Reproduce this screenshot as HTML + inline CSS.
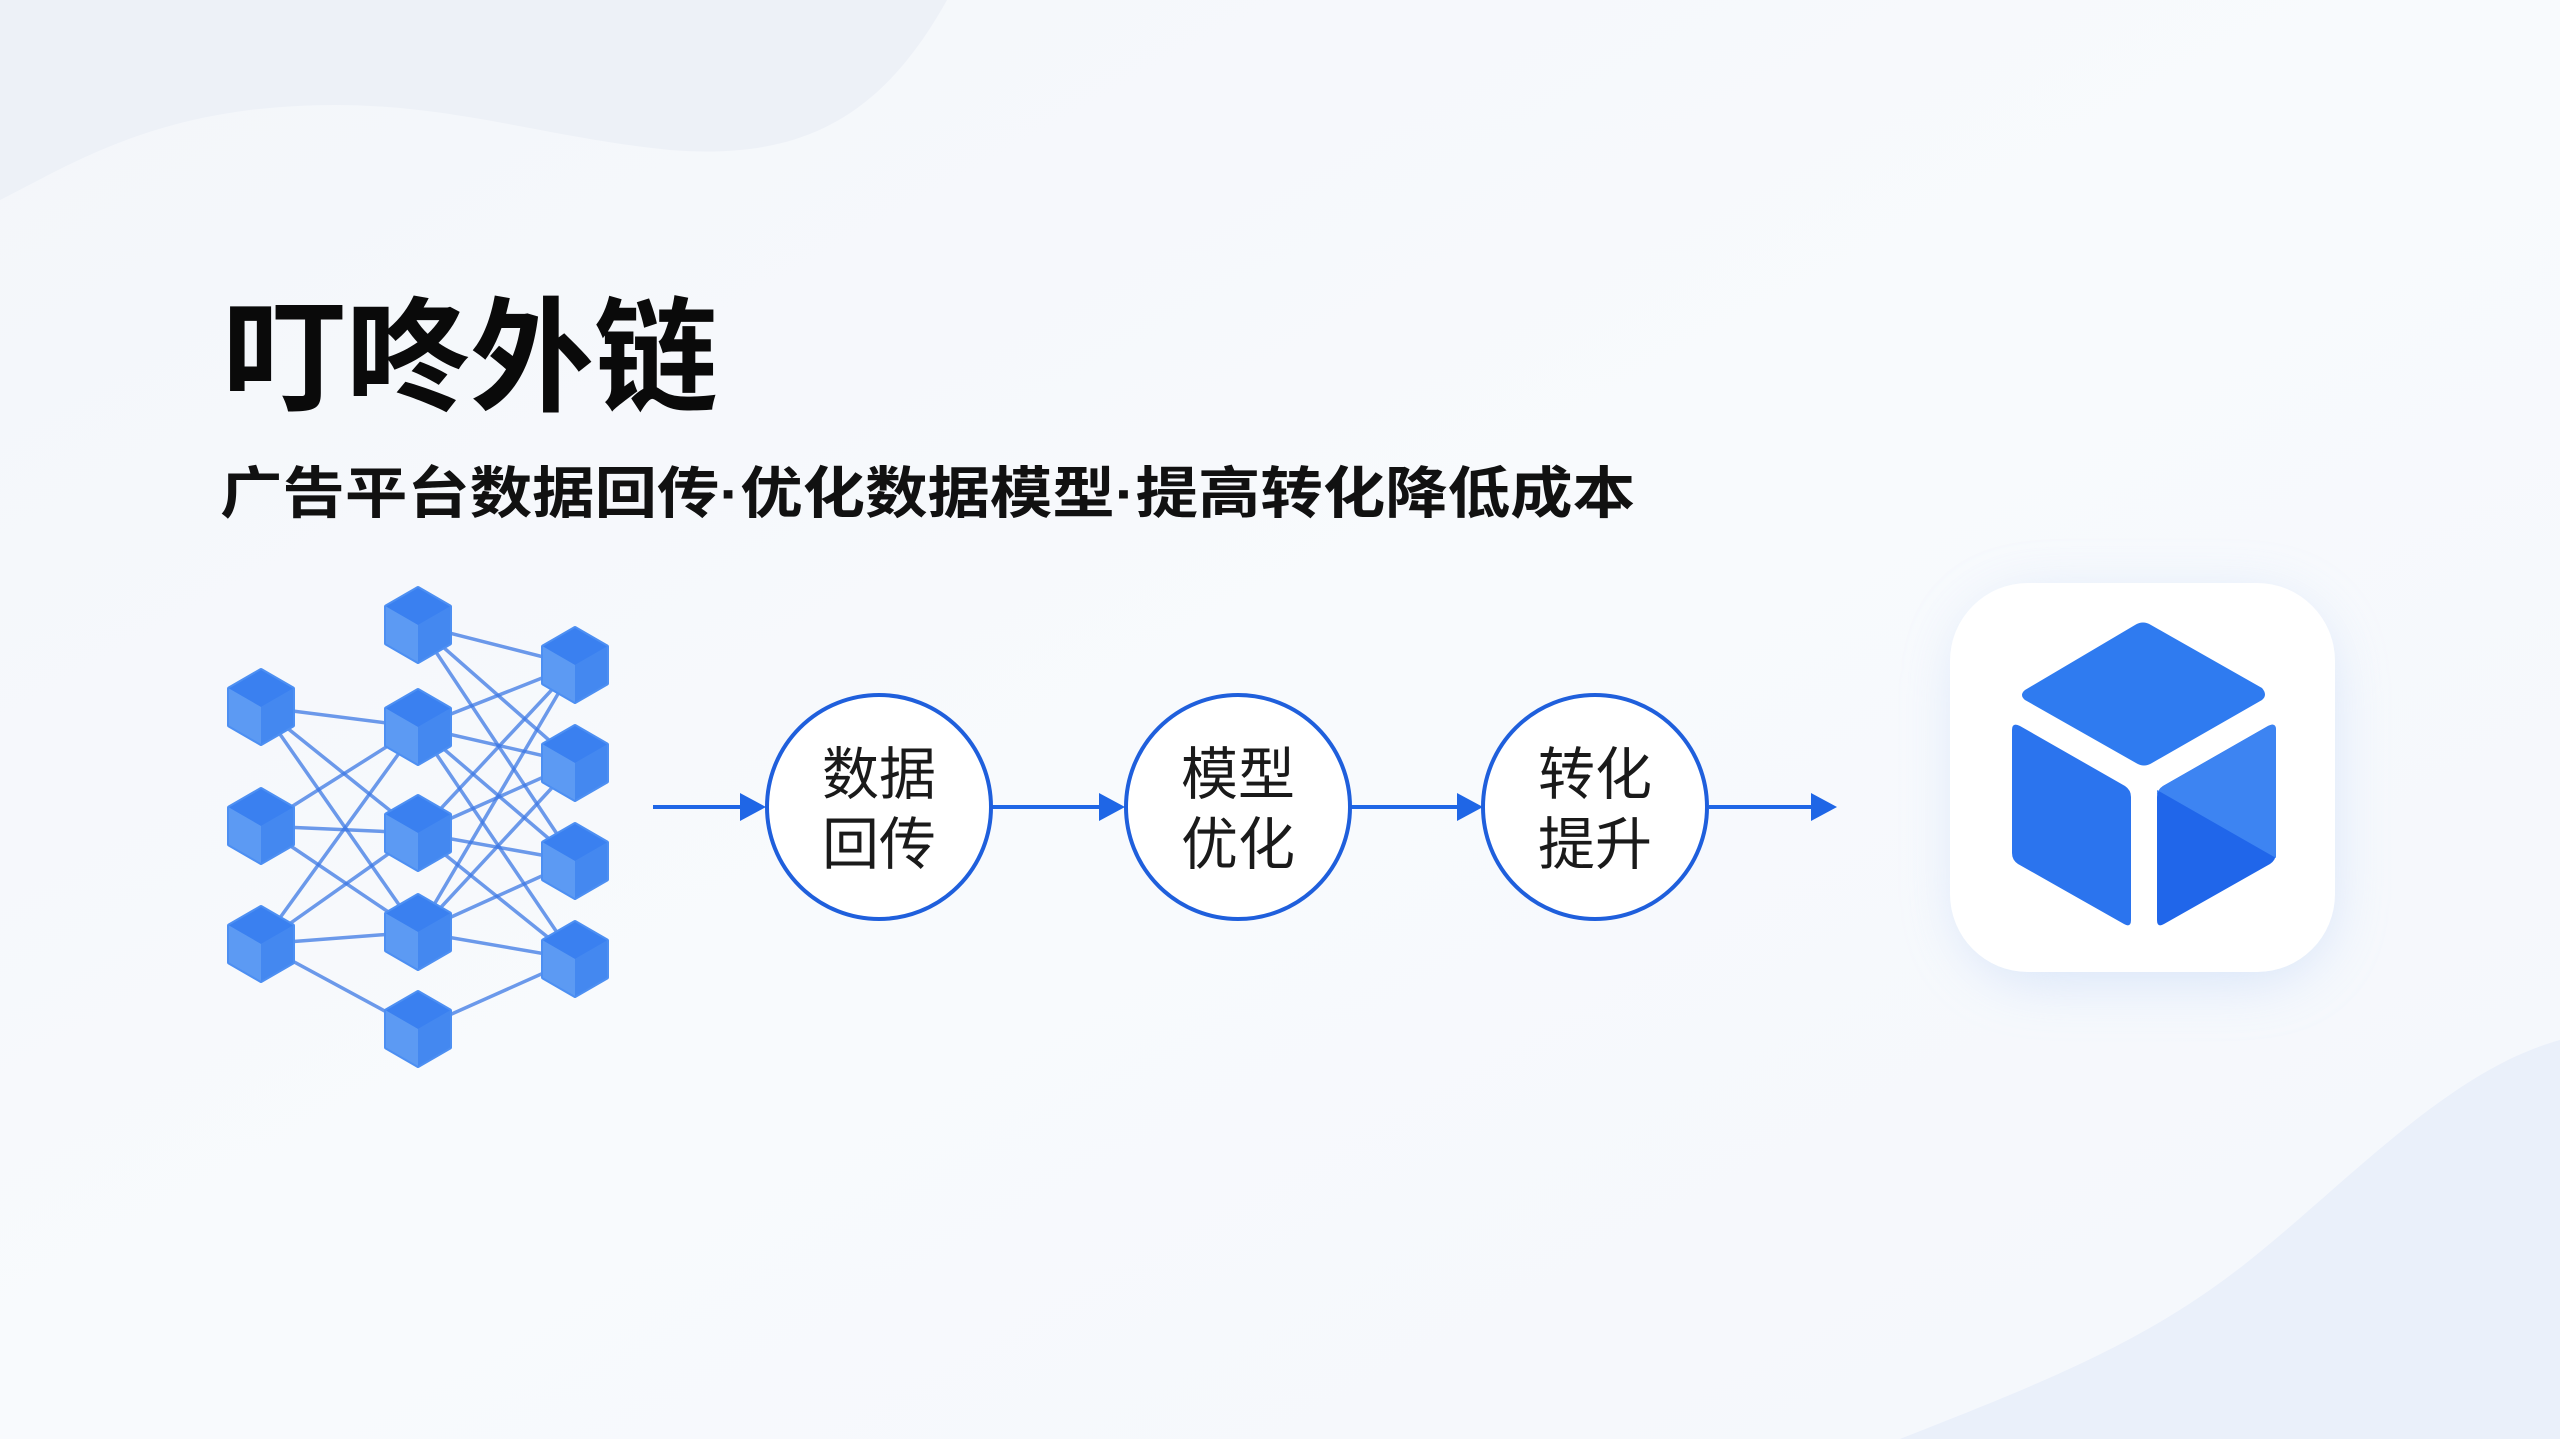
<!DOCTYPE html>
<html><head><meta charset="utf-8"><style>
html,body{margin:0;padding:0;width:2560px;height:1439px;overflow:hidden;background:#f5f8fc;}
svg{display:block}
</style></head><body>
<svg width="2560" height="1439" viewBox="0 0 2560 1439" xmlns="http://www.w3.org/2000/svg">
<defs>
<linearGradient id="bg" x1="0" y1="0" x2="1" y2="1">
<stop offset="0" stop-color="#f3f6fa"/><stop offset="0.5" stop-color="#f8fafd"/><stop offset="1" stop-color="#f4f7fc"/>
</linearGradient>
<filter id="sh" x="-30%" y="-30%" width="160%" height="160%"><feGaussianBlur stdDeviation="28"/></filter>
<g id="hx">
<polygon points="0,-37 32,-18.5 32,18.5 0,37 -32,18.5 -32,-18.5" fill="#4d8ff2" stroke="#4d8ff2" stroke-width="4" stroke-linejoin="round"/>
<polygon points="0,-37 32,-18.5 0,0 -32,-18.5" fill="#3a80f0"/>
<polygon points="0,0 32,-18.5 32,18.5 0,37" fill="#4488f0"/>
<polygon points="0,0 -32,-18.5 -32,18.5 0,37" fill="#5c9af3"/>
</g>
</defs>
<rect width="2560" height="1439" fill="url(#bg)"/>
<path d="M0,0 L947,0 C880,120 800,160 670,150 C520,135 420,90 250,110 C130,125 60,170 0,200 Z" fill="#edf1f7"/>
<path d="M1900,1439 C2050,1380 2150,1340 2250,1260 C2350,1180 2450,1070 2560,1040 L2560,1439 Z" fill="#eaf0fa"/>
<g stroke="#3c78e4" stroke-width="3.5" stroke-opacity="0.75" fill="none">
<line x1="418" y1="625" x2="575" y2="665"/><line x1="418" y1="625" x2="575" y2="763"/><line x1="418" y1="625" x2="575" y2="861"/>
<line x1="261" y1="707" x2="418" y2="727"/><line x1="261" y1="707" x2="418" y2="833"/><line x1="261" y1="707" x2="418" y2="932"/>
<line x1="261" y1="826" x2="418" y2="727"/><line x1="261" y1="826" x2="418" y2="833"/><line x1="261" y1="826" x2="418" y2="932"/>
<line x1="261" y1="944" x2="418" y2="727"/><line x1="261" y1="944" x2="418" y2="833"/><line x1="261" y1="944" x2="418" y2="932"/><line x1="261" y1="944" x2="418" y2="1029"/>
<line x1="418" y1="727" x2="575" y2="665"/><line x1="418" y1="727" x2="575" y2="763"/><line x1="418" y1="727" x2="575" y2="861"/><line x1="418" y1="727" x2="575" y2="959"/>
<line x1="418" y1="833" x2="575" y2="665"/><line x1="418" y1="833" x2="575" y2="763"/><line x1="418" y1="833" x2="575" y2="861"/><line x1="418" y1="833" x2="575" y2="959"/>
<line x1="418" y1="932" x2="575" y2="665"/><line x1="418" y1="932" x2="575" y2="763"/><line x1="418" y1="932" x2="575" y2="861"/><line x1="418" y1="932" x2="575" y2="959"/>
<line x1="418" y1="1029" x2="575" y2="959"/>
</g>
<use href="#hx" x="261" y="707"/><use href="#hx" x="261" y="826"/><use href="#hx" x="261" y="944"/>
<use href="#hx" x="418" y="625"/><use href="#hx" x="418" y="727"/><use href="#hx" x="418" y="833"/><use href="#hx" x="418" y="932"/><use href="#hx" x="418" y="1029"/>
<use href="#hx" x="575" y="665"/><use href="#hx" x="575" y="763"/><use href="#hx" x="575" y="861"/><use href="#hx" x="575" y="959"/>
<g stroke="#1f66e6" stroke-width="4">
<line x1="653" y1="807" x2="745" y2="807"/><line x1="991" y1="807" x2="1105" y2="807"/><line x1="1351" y1="807" x2="1462" y2="807"/><line x1="1709" y1="807" x2="1815" y2="807"/>
</g>
<g fill="#1f66e6">
<polygon points="740,793 766,807 740,821"/><polygon points="1099,793 1125,807 1099,821"/><polygon points="1457,793 1483,807 1457,821"/><polygon points="1811,793 1837,807 1811,821"/>
</g>
<g fill="#ffffff" stroke="#1f5fdc" stroke-width="4">
<circle cx="879" cy="807" r="112"/><circle cx="1238" cy="807" r="112"/><circle cx="1595" cy="807" r="112"/>
</g>
<g font-family="Liberation Sans, Noto Sans CJK SC, sans-serif" font-size="57" fill="#1a1a1a" text-anchor="middle">
<text x="879" y="794">数据</text><text x="879" y="864">回传</text>
<text x="1238" y="794">模型</text><text x="1238" y="864">优化</text>
<text x="1595" y="794">转化</text><text x="1595" y="864">提升</text>
</g>
<text x="222" y="401" font-family="Liberation Sans, Noto Sans CJK SC, sans-serif" font-size="124" font-weight="bold" fill="#0a0a0a">叮咚外链</text>
<text x="220" y="513" font-family="Liberation Sans, Noto Sans CJK SC, sans-serif" font-size="56" font-weight="bold" fill="#111" textLength="1415" lengthAdjust="spacingAndGlyphs">广告平台数据回传·优化数据模型·提高转化降低成本</text>
<rect x="1960" y="600" width="370" height="380" rx="80" fill="#c9dbf7" opacity="0.7" filter="url(#sh)"/>
<rect x="1950" y="583" width="385" height="389" rx="78" fill="#ffffff"/>
<path d="M2135,625 Q2143,620 2151,625 L2262,688 Q2268,695 2262,700 L2152,763 Q2144,768 2136,763 L2025,700 Q2019,695 2025,690 Z" fill="#2f7bf0"/>
<path d="M2012,730 Q2012,722 2020,726 L2125,786 Q2131,790 2131,797 L2131,920 Q2131,928 2124,924 L2018,864 Q2012,860 2012,853 Z" fill="#2b74ee"/>
<path d="M2276,730 Q2276,722 2268,726 L2163,786 Q2157,790 2157,797 L2157,920 Q2157,928 2164,924 L2270,864 Q2276,860 2276,853 Z" fill="#2066ea"/>
<path d="M2276,730 Q2276,722 2268,726 L2163,786 Q2157,790 2157,797 L2157,790 L2276,858 Z" fill="#3d84f2"/>
</svg>
</body></html>
